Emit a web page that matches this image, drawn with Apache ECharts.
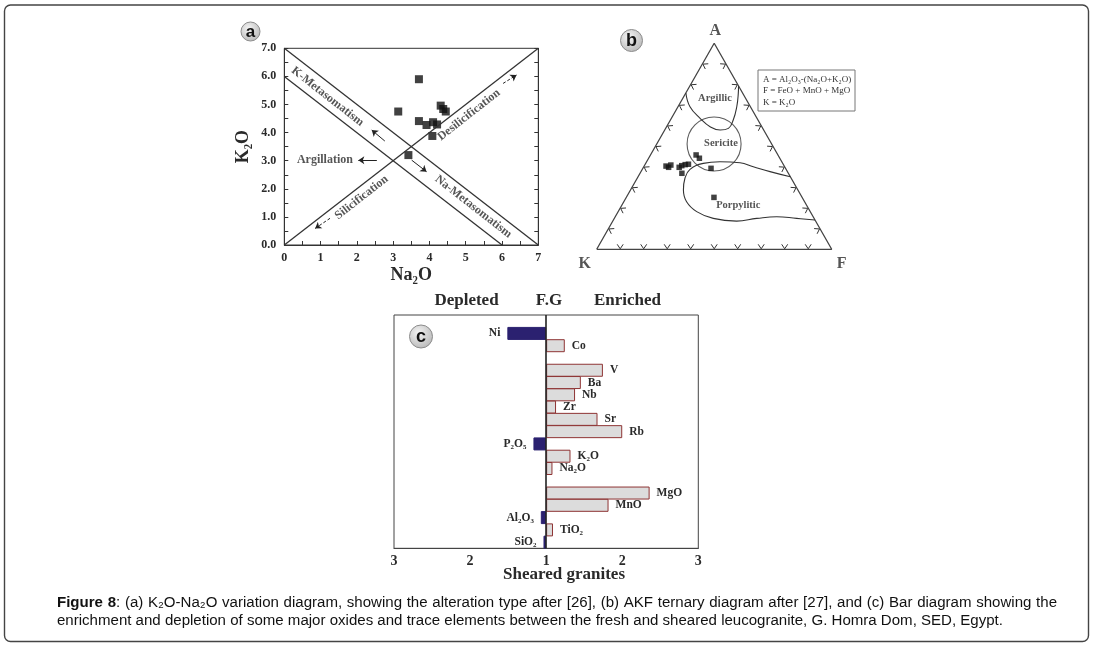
<!DOCTYPE html>
<html><head><meta charset="utf-8">
<script src="https://cdn.jsdelivr.net/npm/echarts@6/dist/echarts.min.js"></script>
<style>html,body{margin:0;padding:0;background:#fff}#c{width:1095px;height:648px}</style>
</head><body><div id="c"></div>
<script>
// ---------------- Panel a : K2O vs Na2O ----------------
const aNa2O = [3.14, 3.71, 3.42, 3.71, 3.92, 4.10, 4.21, 4.08, 4.31, 4.38, 4.45];
const aK2O  = [4.75, 5.90, 3.20, 4.41, 4.27, 4.37, 4.29, 3.88, 4.96, 4.84, 4.75];
const aOuterX = [0, 7], aOuterY = [7, 0];      // K/Na-metasomatism outer boundary
const aInnerX = [0, 6], aInnerY = [6, 0];      // inner boundary
const aDiagX  = [0, 7], aDiagY  = [0, 7];      // silicification / desilicification line
const aTextNames = ['K-Metasomatism', 'Na-Metasomatism', 'Desilicification', 'Silicification', 'Argillation'];
const aTextX = [1.19, 5.21, 5.09, 2.13, 1.12];
const aTextY = [5.28, 1.36, 4.63, 1.69, 3.02];
const aTextAngle = [-38, -38, 38, 38, 0];
const aArrowFrom = [[6.03, 5.75], [1.26, 0.95], [2.55, 3.02], [2.77, 3.70], [3.51, 3.02]];
const aArrowTo   = [[6.40, 6.05], [0.85, 0.59], [2.04, 3.02], [2.41, 4.09], [3.92, 2.61]];
const aArrowDashed = [true, true, false, false, false];

// ---------------- Panel b : AKF ternary ----------------
const bSampleA = [40.4, 40.9, 39.8, 39.8, 40.6, 41.1, 41.3, 36.9, 45.8, 44.2, 39.3, 25.2];
const bSampleF = [9.3, 11.1, 10.7, 15.2, 15.9, 17.1, 18.4, 17.8, 19.4, 21.6, 29.0, 37.3];
const bArgillicA = [75.9, 69.2, 63.6, 59.5, 57.9, 58.7, 62.8, 69.2, 75.7, 79.3];
const bArgillicF = [0.0, 5.1, 12.2, 18.5, 23.6, 26.7, 26.7, 25.0, 22.4, 20.7];
const bPorpA = [35.2, 37.7, 40.1, 42.0, 42.5, 41.7, 38.8, 34.5, 28.8, 23.1, 18.3, 15.0, 13.7, 15.0, 15.8, 15.0, 14.2];
const bPorpF = [64.8, 54.9, 46.6, 40.0, 31.2, 24.5, 20.3, 20.3, 22.5, 26.7, 33.4, 42.1, 52.7, 60.6, 68.7, 77.6, 85.8];
const bSericiteA = [51.1], bSericiteF = [24.4];
const bFieldNames = ['Argillic', 'Sericite', 'Porpylitic'];
const bFieldA = [73.3, 51.6, 21.5];
const bFieldF = [13.7, 27.1, 49.5];
const bVertexNames = ['K', 'F', 'A'];
const bVertexA = [0, 0, 100];
const bVertexF = [0, 100, 0];
const bTickValues = [10, 20, 30, 40, 50, 60, 70, 80, 90];

// ---------------- Panel c : bar diagram ----------------
const cCategories = ['', 'Ni', 'Co', ' ', 'V', 'Ba', 'Nb', 'Zr', 'Sr', 'Rb', 'P₂O₅', 'K₂O', 'Na₂O', '  ', 'MgO', 'MnO', 'Al₂O₃', 'TiO₂', 'SiO₂'];
const cValues = [null, -0.51, 0.245, null, 0.746, 0.456, 0.38, 0.13, 0.675, 1.0, -0.167, 0.32, 0.083, null, 1.36, 0.82, -0.07, 0.09, -0.035];
const cTickValues = [-2, -1, 0, 1, 2];

// ---------------- caption ----------------
const captionLine1 = 'Figure 8: (a) K₂O-Na₂O variation diagram, showing the alteration type after [26], (b) AKF ternary diagram after [27], and (c) Bar diagram showing the';
const captionLine2 = 'enrichment and depletion of some major oxides and trace elements between the fresh and sheared leucogranite, G. Homra Dom, SED, Egypt.';

const SERIF = '"Liberation Serif", "Times New Roman", serif';
const SANS = '"Liberation Sans", Arial, Helvetica, sans-serif';
const INK = '#2a2a2a';

function tern(A, F) { return [F / 100 + A / 200, A / 100]; }

const chart = echarts.init(document.getElementById('c'), null, {renderer: 'canvas', width: 1095, height: 648});

const boldSerif = (size) => ({fontFamily: SERIF, fontWeight: 'bold', fontSize: size, color: INK});

const aAxisCommon = {
  type: 'value', min: 0, max: 7, interval: 1,
  axisLine: {show: true, lineStyle: {color: '#333', width: 1}},
  axisTick: {show: true, inside: true, length: 4, lineStyle: {color: '#333'}},
  minorTick: {show: true, splitNumber: 2, length: 4, lineStyle: {color: '#333'}},
  splitLine: {show: false}
};

const series = [];
// Panel a boundary lines
[[aOuterX, aOuterY], [aInnerX, aInnerY], [aDiagX, aDiagY]].forEach(([xs, ys]) => {
  series.push({type: 'line', xAxisIndex: 0, yAxisIndex: 0, silent: true, symbol: 'none',
    data: xs.map((x, i) => [x, ys[i]]), lineStyle: {color: '#333', width: 1.3}});
});
series.push({type: 'scatter', xAxisIndex: 0, yAxisIndex: 0, symbol: 'rect', symbolSize: 8,
  itemStyle: {color: '#111'}, data: aNa2O.map((x, i) => [x, aK2O[i]])});
series.push({type: 'scatter', xAxisIndex: 0, yAxisIndex: 0, symbolSize: 0, silent: true,
  data: aTextNames.map((n, i) => ({name: n, value: [aTextX[i], aTextY[i]], label: {rotate: aTextAngle[i]}})),
  label: {show: true, position: 'inside', formatter: '{b}', ...boldSerif(12)}});
series.push({type: 'lines', coordinateSystem: 'cartesian2d', xAxisIndex: 0, yAxisIndex: 0, silent: true,
  symbol: ['none', 'arrow'], symbolSize: 6,
  lineStyle: {color: '#222', width: 1, opacity: 1},
  data: aArrowFrom.map((f, i) => ({coords: [f, aArrowTo[i]], lineStyle: {type: aArrowDashed[i] ? [3, 2] : 'solid'}}))});

// Panel b
const triangle = [0, 1, 2, 0].map(i => tern(bVertexA[i], bVertexF[i]));
series.push({type: 'line', xAxisIndex: 1, yAxisIndex: 2, silent: true, symbol: 'none',
  data: triangle, lineStyle: {color: '#444', width: 1.3}});
const tickData = [];
[0, 1, 2].forEach(e => bTickValues.forEach(t => tickData.push([e, t])));
series.push({type: 'custom', xAxisIndex: 1, yAxisIndex: 2, silent: true, data: tickData,
  renderItem: (params, api) => {
    const e = api.value(0), t = api.value(1) / 100;
    const V = [0, 1, 2].map(i => tern(bVertexA[i], bVertexF[i]));
    const p1 = api.coord(V[e]), p2 = api.coord(V[(e + 1) % 3]);
    const c = api.coord([0.5, 1 / 3]);
    const px = p1[0] + t * (p2[0] - p1[0]), py = p1[1] + t * (p2[1] - p1[1]);
    let dx = p2[0] - p1[0], dy = p2[1] - p1[1];
    const L = Math.hypot(dx, dy); dx /= L; dy /= L;
    let nx = -dy, ny = dx;
    if ((c[0] - px) * nx + (c[1] - py) * ny < 0) { nx = -nx; ny = -ny; }
    const h = 5, w = 3;
    return {type: 'polyline', shape: {points: [[px + nx * h - dx * w, py + ny * h - dy * w], [px + nx * 0.5, py + ny * 0.5], [px + nx * h + dx * w, py + ny * h + dy * w]]},
      style: {stroke: '#333', fill: null, lineWidth: 1}};
  }});
series.push({type: 'line', xAxisIndex: 1, yAxisIndex: 2, silent: true, symbol: 'none', smooth: 0.45,
  data: bArgillicA.map((a, i) => tern(a, bArgillicF[i])), lineStyle: {color: '#333', width: 1.1}});
series.push({type: 'line', xAxisIndex: 1, yAxisIndex: 2, silent: true, symbol: 'none', smooth: 0.45,
  data: bPorpA.map((a, i) => tern(a, bPorpF[i])), lineStyle: {color: '#333', width: 1.1}});
series.push({type: 'scatter', xAxisIndex: 1, yAxisIndex: 2, silent: true, symbol: 'circle', symbolSize: 54,
  itemStyle: {color: 'rgba(0,0,0,0)', borderColor: '#333', borderWidth: 1.1},
  data: bSericiteA.map((a, i) => tern(a, bSericiteF[i]))});
series.push({type: 'scatter', xAxisIndex: 1, yAxisIndex: 2, symbol: 'rect', symbolSize: 5.5,
  itemStyle: {color: '#111'}, data: bSampleA.map((a, i) => tern(a, bSampleF[i]))});
series.push({type: 'scatter', xAxisIndex: 1, yAxisIndex: 2, symbolSize: 0, silent: true,
  data: bFieldNames.map((n, i) => ({name: n, value: tern(bFieldA[i], bFieldF[i])})),
  label: {show: true, position: 'inside', formatter: '{b}', ...boldSerif(10.5)}});
const vertexOffsets = [[-12, 15], [10, 15], [1, -12]];
series.push({type: 'scatter', xAxisIndex: 1, yAxisIndex: 2, symbolSize: 0, silent: true,
  data: bVertexNames.map((n, i) => ({name: n, value: tern(bVertexA[i], bVertexF[i]), label: {offset: vertexOffsets[i]}})),
  label: {show: true, position: 'inside', formatter: '{b}', ...boldSerif(16)}});

// Panel c
series.push({type: 'bar', xAxisIndex: 2, yAxisIndex: 3, barWidth: 13,
  data: cValues.map(v => v == null ? '-' : {
    value: v,
    itemStyle: v >= 0 ? {color: '#dcdcdc', borderColor: '#8e3434', borderWidth: 1}
                      : {color: '#2b2170', borderColor: '#2b2170', borderWidth: 1},
    label: {position: v >= 0 ? 'right' : 'left'}
  }),
  label: {show: true, distance: 7, formatter: '{b}', ...boldSerif(11.5)},
  markLine: {silent: true, symbol: 'none', label: {show: false}, data: [{xAxis: 0}],
    lineStyle: {color: '#222', width: 1.6, type: 'solid'}}
});

function badge(cx, cy, r, letter, fs) {
  return [
    {type: 'circle', shape: {cx, cy, r}, silent: true,
      style: {fill: new echarts.graphic.RadialGradient(0.4, 0.35, 0.75, [{offset: 0, color: '#f4f4f4'}, {offset: 1, color: '#b3b3b3'}]), stroke: '#8c8c8c', lineWidth: 1}},
    {type: 'text', x: cx, y: cy + 0.5, silent: true,
      style: {text: letter, fontSize: fs, fontWeight: 'bold', fontFamily: SANS, fill: '#111', align: 'center', verticalAlign: 'middle'}}
  ];
}

function caption() {
  const els = [];
  const ctx = document.createElement('canvas').getContext('2d');
  // prefer a narrow sans (as in the reference) if installed
  const probe = 'abcdefghijklmnopqrstuvwxyz ABCDEFG';
  ctx.font = '20px "Liberation Sans Narrow", monospace';
  const wN = ctx.measureText(probe).width;
  ctx.font = '20px monospace';
  const wM = ctx.measureText(probe).width;
  const FAM = Math.abs(wN - wM) > 1 ? '"Liberation Sans Narrow", ' + SANS : SANS;
  const fontOf = (b, fs) => `${b ? 'bold ' : ''}${fs}px ${FAM}`;
  ctx.font = fontOf(false, 15);
  let fs = 15 * 947 / ctx.measureText(captionLine2).width;
  fs = Math.min(fs, 17.5);
  const measure = (t, b) => { ctx.font = fontOf(b, fs); return ctx.measureText(t).width; };
  function place(words, x0, y, right) {
    const widths = words.map(w => w.reduce((s, [t, b]) => s + measure(t, b), 0));
    const total = widths.reduce((a, b) => a + b, 0);
    let gap = measure(' ', false);
    if (right) gap = (right - x0 - total) / (words.length - 1);
    let x = x0;
    words.forEach((w, i) => {
      let sx = x;
      w.forEach(([t, b]) => {
        els.push({type: 'text', x: sx, y, silent: true,
          style: {text: t, fontSize: fs, fontFamily: FAM, fontWeight: b ? 'bold' : 'normal', fill: '#111', align: 'left', verticalAlign: 'middle'}});
        sx += measure(t, b);
      });
      x += widths[i] + gap;
    });
  }
  const w1 = captionLine1.split(' ').map((w, i) => {
    if (i === 0) return [[w, true]];
    if (i === 1) return [[w.replace(':', ''), true], [':', false]];
    return [[w, false]];
  });
  place(w1, 57, 603, 1057);
  place(captionLine2.split(' ').map(w => [[w, false]]), 57, 621, null);
  return els;
}

const hdr = (text, x, y, size) => ({type: 'text', x, y, silent: true,
  style: {text, fontSize: size, fontWeight: 'bold', fontFamily: SERIF, fill: INK, align: 'center', verticalAlign: 'middle'}});
const small = (text, x, y) => ({type: 'text', x, y, silent: true,
  style: {text, fontSize: 9, fontFamily: SERIF, fill: '#333', align: 'left', verticalAlign: 'middle'}});

const graphics = [
  {type: 'rect', silent: true, shape: {x: 4.5, y: 5, width: 1084, height: 636.5, r: 6}, style: {fill: 'none', stroke: '#444', lineWidth: 1.4}},
  ...badge(250.5, 31.5, 9.5, 'a', 17),
  ...badge(631.5, 40.5, 11, 'b', 18),
  ...badge(421, 336.5, 11.5, 'c', 18),
  {type: 'rect', silent: true, shape: {x: 758, y: 70, width: 97, height: 41}, style: {fill: '#fff', stroke: '#777', lineWidth: 1}},
  small('A = Al₂O₃-(Na₂O+K₂O)', 763, 79.5),
  small('F = FeO + MnO + MgO', 763, 91),
  small('K = K₂O', 763, 102.5),
  hdr('Depleted', 466.5, 301, 17),
  hdr('F.G', 549, 301, 17),
  hdr('Enriched', 627.5, 301, 17),
  hdr('Sheared granites', 564, 575, 17),
  ...caption()
];

const option = {
  animation: false,
  backgroundColor: '#fff',
  textStyle: {fontFamily: SERIF},
  grid: [
    {left: 284.3, top: 48.3, width: 254, height: 196.7, show: true, borderColor: '#333', borderWidth: 1, outerBoundsMode: 'none'},
    {left: 596.7, top: 43.3, width: 235, height: 206, show: false, outerBoundsMode: 'none'},
    {left: 394, top: 315, width: 304.3, height: 233.3, show: true, borderColor: '#444', borderWidth: 1, outerBoundsMode: 'none'}
  ],
  xAxis: [
    Object.assign({}, aAxisCommon, {gridIndex: 0,
      axisLabel: {margin: 7, ...boldSerif(12)},
      name: 'Na₂O', nameLocation: 'middle', nameGap: 21, nameTextStyle: boldSerif(18)}),
    {gridIndex: 1, type: 'value', min: 0, max: 1, show: false},
    {gridIndex: 2, type: 'value', min: cTickValues[0], max: cTickValues[cTickValues.length - 1], interval: 1,
      axisLine: {show: true, lineStyle: {color: '#444'}}, axisTick: {show: false}, splitLine: {show: false},
      axisLabel: {margin: 6, formatter: v => String(Math.abs(v) + 1), ...boldSerif(14)}}
  ],
  yAxis: [
    Object.assign({}, aAxisCommon, {gridIndex: 0,
      axisLabel: {margin: 8, formatter: v => v.toFixed(1), ...boldSerif(12)},
      name: 'K₂O', nameLocation: 'middle', nameRotate: 90, nameGap: 32, nameTextStyle: boldSerif(18)}),
    Object.assign({}, aAxisCommon, {gridIndex: 0, position: 'right', axisLabel: {show: false}}),
    {gridIndex: 1, type: 'value', min: 0, max: 1, show: false},
    {gridIndex: 2, type: 'category', data: cCategories, inverse: true, show: false}
  ],
  series,
  graphic: {elements: graphics}
};
chart.setOption(option);
</script>
</body></html>
